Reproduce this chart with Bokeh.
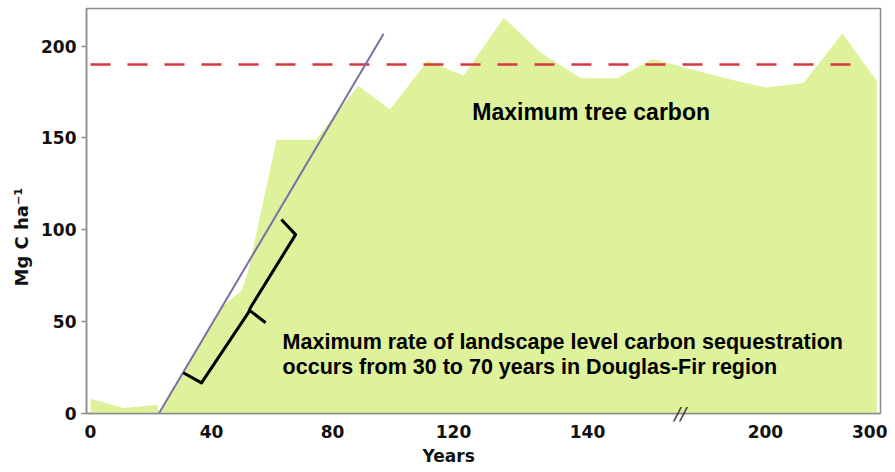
import numpy as np
from bokeh.plotting import figure
from bokeh.models import Range1d, FixedTicker, LinearAxis, Title
from bokeh.core.properties import value
from bokeh.embed import file_html
from bokeh.resources import INLINE

# ---------------- data ----------------
years = [0, 11, 22, 22.6, 43.4, 50, 52.2, 61.5, 74.5, 88.5, 99, 111.5, 121.5,
         127.5, 133, 139, 150, 162, 186.5, 200, 236, 272.5, 305]
carbon = [8, 3, 4.7, 0.3, 58, 67, 78, 149, 149, 178.5, 165.5, 192, 184,
          215.5, 196.5, 182.5, 182.5, 193, 182.5, 177.5, 180, 207, 181]
max_tree_carbon = 190
max_line_years = [0, 291.5]
rate_years = [22.6, 96.9]
rate_carbon = [0, 206.8]
brace_years = [30.7, 36.7, 52.2, 52.9, 67.8, 63.1]
brace_carbon = [22.2, 16.7, 54.9, 57.7, 97.4, 105.6]
brace_tip_years = [52.5, 57.9]
brace_tip_carbon = [56.3, 49.4]
tick_years = [0, 40, 80, 120, 140, 200, 300]
tick_labels = ["0", "40", "80", "120", "140", "200", "300"]
y_ticks = [0, 50, 100, 150, 200]
break_year = 171.3

# broken (piecewise) x axis: year -> axis position
MAP_YEARS = [-50, 0, 120, 140, 200, 300, 320]
MAP_POS = [-50, 0, 120, 164.3, 223.1, 258.2, 265.2]


def to_pos(v):
    return np.interp(np.asarray(v, dtype=float), MAP_YEARS, MAP_POS)


AXIS_GRAY = "#8c8c8c"

p = figure(width=887, height=469, output_backend="svg", toolbar_location=None,
           x_range=Range1d(-1.32, 261.16), y_range=Range1d(0, 220.5),
           min_border_left=86, min_border_right=7, min_border_top=8,
           min_border_bottom=56)
p.background_fill_color = "white"
p.border_fill_color = "white"
p.outline_line_color = AXIS_GRAY
p.outline_line_width = 1.5
p.xgrid.visible = False
p.ygrid.visible = False

# area
p.varea(x=to_pos(years), y1=0, y2=carbon, fill_color="#def29b", fill_alpha=1.0)

# maximum tree carbon dashed line
p.line(x=to_pos(max_line_years), y=[max_tree_carbon, max_tree_carbon],
       line_color="#d8373f", line_width=2.6, line_dash="20 17")

# max rate line
p.line(x=to_pos(rate_years), y=rate_carbon, line_color="#7b70a3", line_width=2)

# brace
p.line(x=to_pos(brace_years), y=brace_carbon, line_color="black", line_width=3,
       line_join="round")
p.line(x=to_pos(brace_tip_years), y=brace_tip_carbon, line_color="black",
       line_width=3)

# annotation texts
p.text(x=[float(to_pos(122.8))], y=[164.4], text=["Maximum tree carbon"],
       text_font=value("Liberation Sans"), text_font_style="bold",
       text_font_size="23px", text_color="black", text_align="left",
       text_baseline="alphabetic")
p.text(x=[float(to_pos(63.5)), float(to_pos(63.5))], y=[39.2, 25.1],
       text=["Maximum rate of landscape level carbon sequestration",
             "occurs from 30 to 70 years in Douglas-Fir region"],
       text_font=value("Liberation Sans"), text_font_style="bold",
       text_font_size="21.5px", text_color="black", text_align="left",
       text_baseline="alphabetic")

# ---- bottom axis: carries the axis line and the "//" break mark ----
bx = p.xaxis[0]
break_pos = round(float(to_pos(break_year)), 3)
bx.ticker = FixedTicker(ticks=[break_pos])
bx.major_label_overrides = {break_pos: "//"}
bx.axis_line_color = AXIS_GRAY
bx.axis_line_width = 1.5
bx.major_tick_line_color = None
bx.major_tick_out = 0
bx.major_tick_in = 0
bx.minor_tick_line_color = None
bx.major_label_standoff = -11
bx.major_label_text_font = "DejaVu Sans"
bx.major_label_text_font_style = "italic"
bx.major_label_text_font_size = "18px"
bx.major_label_text_color = "#333333"

# ---- second bottom axis: year tick labels ----
ticks = [round(float(t), 3) for t in to_pos(tick_years)]
lx = LinearAxis(ticker=FixedTicker(ticks=ticks),
                major_label_overrides={t: lab for t, lab in zip(ticks, tick_labels)},
                axis_line_color=None, major_tick_line_color=None,
                minor_tick_line_color=None, major_tick_out=0, major_tick_in=0,
                major_label_standoff=-2,
                major_label_text_font="DejaVu Sans",
                major_label_text_font_style="bold",
                major_label_text_font_size="17px",
                major_label_text_color="#111111")
p.add_layout(lx, "below")

# ---- y axis ----
ya = p.yaxis[0]
ya.ticker = FixedTicker(ticks=y_ticks)
ya.axis_line_color = AXIS_GRAY
ya.axis_line_width = 1.5
ya.major_tick_line_color = AXIS_GRAY
ya.major_tick_line_width = 1.5
ya.major_tick_out = 5
ya.major_tick_in = 0
ya.minor_tick_line_color = None
ya.major_label_standoff = 5
ya.major_label_text_font = "DejaVu Sans"
ya.major_label_text_font_style = "bold"
ya.major_label_text_font_size = "17px"
ya.major_label_text_color = "#111111"

# ---- axis titles ----
p.add_layout(Title(text="Years", align="left", offset=336, standoff=7,
                   text_font="DejaVu Sans", text_font_style="bold",
                   text_font_size="17px", text_color="#111111"), "below")
p.add_layout(Title(text="Mg C ha\u207b\u00b9", align="left", offset=127,
                   standoff=13, text_font="DejaVu Sans", text_font_style="bold",
                   text_font_size="18px", text_color="#111111"), "left")

open("out.html", "w").write(file_html(p, INLINE))
